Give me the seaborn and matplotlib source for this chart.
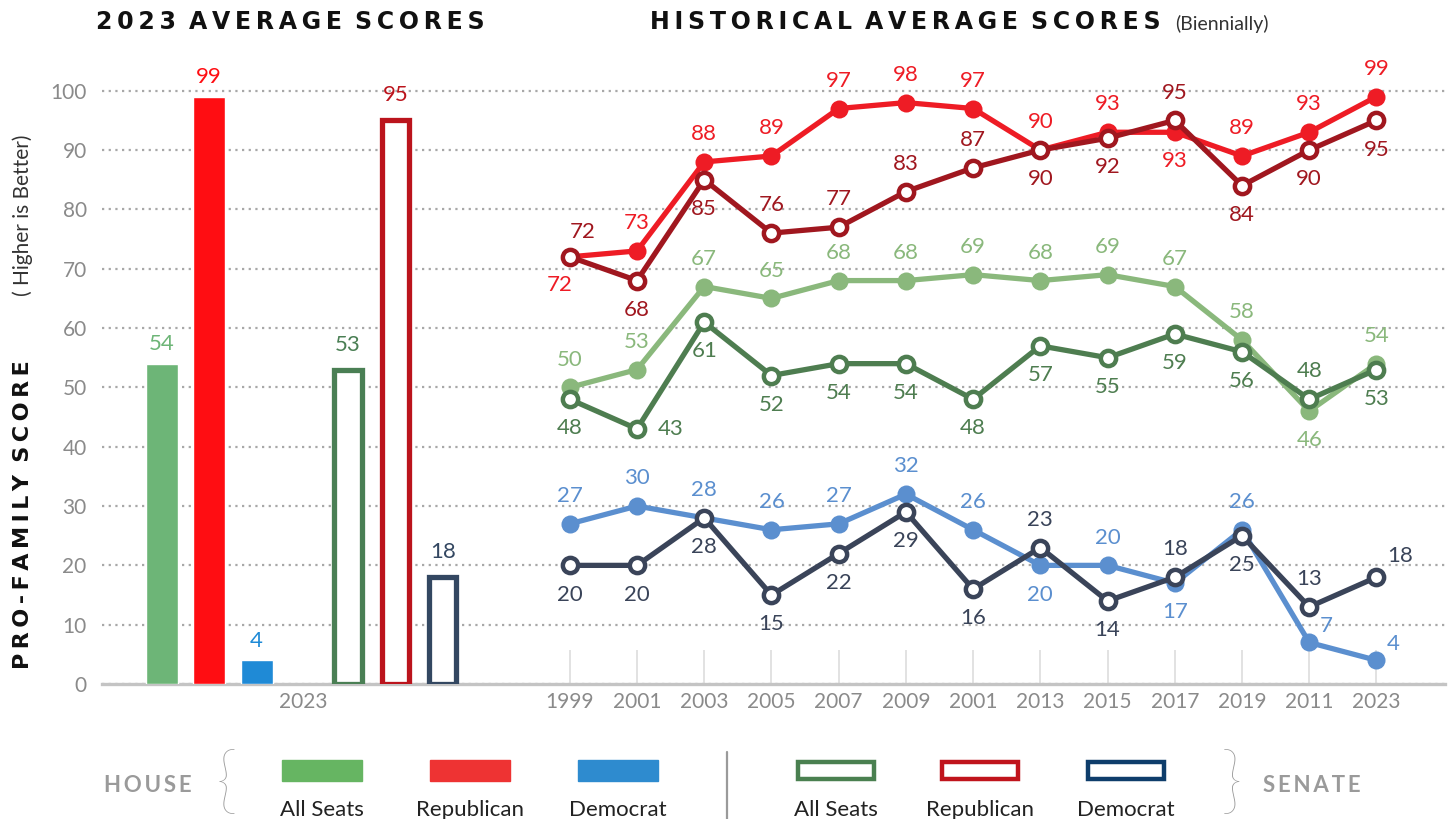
import numpy as np
import pandas as pd
import matplotlib.pyplot as plt
import seaborn as sns
from matplotlib.patches import Rectangle
from matplotlib.lines import Line2D

# --- data ---
years = ["1999", "2001", "2003", "2005", "2007", "2009", "2001",
         "2013", "2015", "2017", "2019", "2011", "2023"]
house_all = [50, 53, 67, 65, 68, 68, 69, 68, 69, 67, 58, 46, 54]
house_rep = [72, 73, 88, 89, 97, 98, 97, 90, 93, 93, 89, 93, 99]
house_dem = [27, 30, 28, 26, 27, 32, 26, 20, 20, 17, 26, 7, 4]
senate_all = [48, 43, 61, 52, 54, 54, 48, 57, 55, 59, 56, 48, 53]
senate_rep = [72, 68, 85, 76, 77, 83, 87, 90, 92, 95, 84, 90, 95]
senate_dem = [20, 20, 28, 15, 22, 29, 16, 23, 14, 18, 25, 13, 18]

groups = ["All Seats", "Republican", "Democrat"]
house_2023 = [54, 99, 4]
senate_2023 = [53, 95, 18]

# --- styling ---
house_bar_colors = ["#6db577", "#ff0d12", "#1f8ad6"]
senate_bar_colors = ["#4a7f54", "#bb141c", "#334761"]
house_line_colors = ["#8ab87c", "#ee1c25", "#5b8fcf"]
senate_line_colors = ["#4e7d50", "#a0171f", "#3a4459"]
legend_house = ["#66b562", "#ee3333", "#2e8bcf"]
legend_senate = ["#4a8050", "#c0141c", "#0e3d6b"]

# label placement codes: a above, b below, others special
offsets = {"a": (0, 20), "b": (0, -21), "L": (-7, -20), "A": (9, 18),
           "R": (24, 0), "r": (12, 12), "Q": (17, 15)}
house_all_pos = "aaaaaaaaaaaba"
house_rep_pos = "Laaaaaaaabaaa"
house_dem_pos = "aaaaaaababarr"
senate_all_pos = "bRbbbbbbbbbab"
senate_rep_pos = "Abbaaaabbabbb"
senate_dem_pos = "bbbbbbbababaQ"

sns.set_style("white")
plt.rcParams["font.family"] = ["Lato", "DejaVu Sans"]

THIN = "\u2009"


def spaced(s):
    return (" " + THIN).join(THIN.join(w) for w in s.split())


fig = plt.figure(figsize=(14.52, 8.19), dpi=100)
ax = fig.add_axes([0.0702, 0.1648, 0.9250, 0.7534])

idx = np.arange(len(years))
bar_step = 0.705
bar_w = 0.476
house_x = -6.07 + bar_step * np.arange(3)
senate_x = -3.30 + bar_step * np.arange(3)

# bars
ax.bar(house_x, house_2023, width=bar_w, color=house_bar_colors, zorder=3)
ax.bar(senate_x, senate_2023, width=bar_w - 0.07, color="white",
       edgecolor=senate_bar_colors, linewidth=3.8, zorder=3)
for xs, vals, cols, dy in [(house_x, house_2023, house_bar_colors, 14),
                           (senate_x, senate_2023, senate_bar_colors, 18)]:
    for x, v, c in zip(xs, vals, cols):
        ax.annotate(str(v), (x, v), xytext=(0, dy), textcoords="offset points",
                    ha="center", va="center", color=c, fontsize=16)

# short vertical year guides
ax.vlines(idx, 0, 5.8, color="#dddddd", lw=1.2, zorder=1)

# lines
series = [
    (house_all, house_line_colors[0], True, house_all_pos),
    (house_rep, house_line_colors[1], True, house_rep_pos),
    (house_dem, house_line_colors[2], True, house_dem_pos),
    (senate_all, senate_line_colors[0], False, senate_all_pos),
    (senate_rep, senate_line_colors[1], False, senate_rep_pos),
    (senate_dem, senate_line_colors[2], False, senate_dem_pos),
]
for k, (vals, col, filled, pos) in enumerate(series):
    df = pd.DataFrame({"x": idx, "y": vals})
    if filled:
        sns.lineplot(data=df, x="x", y="y", ax=ax, color=col, lw=3.8,
                     marker="o", markersize=13, markeredgewidth=0,
                     errorbar=None, zorder=4 + k)
    else:
        sns.lineplot(data=df, x="x", y="y", ax=ax, color=col, lw=3.8,
                     marker="o", markersize=11, markerfacecolor="white",
                     markeredgecolor=col, markeredgewidth=3.2,
                     errorbar=None, zorder=4 + k)
    for x, v, p in zip(idx, vals, pos):
        ax.annotate(str(v), (x, v), xytext=offsets[p], textcoords="offset points",
                    ha="center", va="center", color=col, fontsize=16, zorder=20)

# axes styling
ax.set_xlim(-6.96, 13.02)
ax.set_ylim(0, 104)
ax.set_yticks(range(0, 101, 10))
ax.set_xticks([-3.97] + list(idx))
ax.set_xticklabels(["2023"] + years)
ax.set_xlabel("")
ax.set_ylabel("")
ax.tick_params(axis="both", length=0, labelcolor="#8a8a8a", labelsize=15)
ax.tick_params(axis="y", pad=11)
ax.tick_params(axis="x", pad=6)
ax.yaxis.grid(True, linestyle=(0, (1, 2)), color="#a8a8a8", lw=1.6, zorder=0)
ax.xaxis.grid(False)
for s in ["top", "right", "left"]:
    ax.spines[s].set_visible(False)
ax.spines["bottom"].set_color("#c4c4c4")
ax.spines["bottom"].set_linewidth(2.4)
ax.spines["bottom"].set_zorder(2)

# titles
fig.text(0.1997, 0.973, spaced("2023 AVERAGE SCORES"), ha="center", va="center",
         fontsize=17, fontweight="bold", color="#111111", family="DejaVu Sans")
fig.text(0.6233, 0.973, spaced("HISTORICAL AVERAGE SCORES"), ha="center",
         va="center", fontsize=17, fontweight="bold", color="#111111",
         family="DejaVu Sans")
fig.text(0.809, 0.971, "(Biennially)", ha="left", va="center", fontsize=14,
         color="#333333")

# y label
fig.text(0.0155, 0.372, spaced("PRO-FAMILY SCORE"), rotation=90, ha="center",
         va="center", fontsize=16, fontweight="bold", color="#111111",
         family="DejaVu Sans")
fig.text(0.0155, 0.7375, "( Higher is Better)", rotation=90, ha="center",
         va="center", fontsize=15, color="#333333")

# legend
H = 819.0
W = 1452.0


def fx(px):
    return px / W


def fy(py):
    return (H - py) / H


fig.text(fx(148), fy(786), spaced("HOUSE"), ha="center", va="center",
         fontsize=16, fontweight="bold", color="#9a9a9a")
fig.text(fx(1312), fy(786), spaced("SENATE"), ha="center", va="center",
         fontsize=16, fontweight="bold", color="#9a9a9a")
fig.text(fx(226), fy(785), "{", ha="center", va="center", fontsize=54,
         color="#9a9a9a", family="Lato", fontweight="light")
fig.text(fx(1232), fy(785), "}", ha="center", va="center", fontsize=54,
         color="#9a9a9a", family="Lato", fontweight="light")
fig.add_artist(Line2D([fx(727), fx(727)], [fy(752), fy(819)], color="#9a9a9a",
                      lw=1.6, transform=fig.transFigure))

house_leg_x = [282, 430, 578]
senate_leg_x = [796, 940, 1086]
for x0, c, lab in zip(house_leg_x, legend_house, groups):
    fig.add_artist(Rectangle((fx(x0), fy(781)), fx(80), 21 / H, color=c,
                             transform=fig.transFigure))
    fig.text(fx(x0 + 40), fy(810), lab, ha="center", va="center", fontsize=16,
             color="#222222")
for x0, c, lab in zip(senate_leg_x, legend_senate, groups):
    fig.add_artist(Rectangle((fx(x0 + 2), fy(779)), fx(76), 17 / H,
                             facecolor="white", edgecolor=c, lw=3.2,
                             transform=fig.transFigure))
    fig.text(fx(x0 + 40), fy(810), lab, ha="center", va="center", fontsize=16,
             color="#222222")

fig.savefig("out.png", dpi=100)
